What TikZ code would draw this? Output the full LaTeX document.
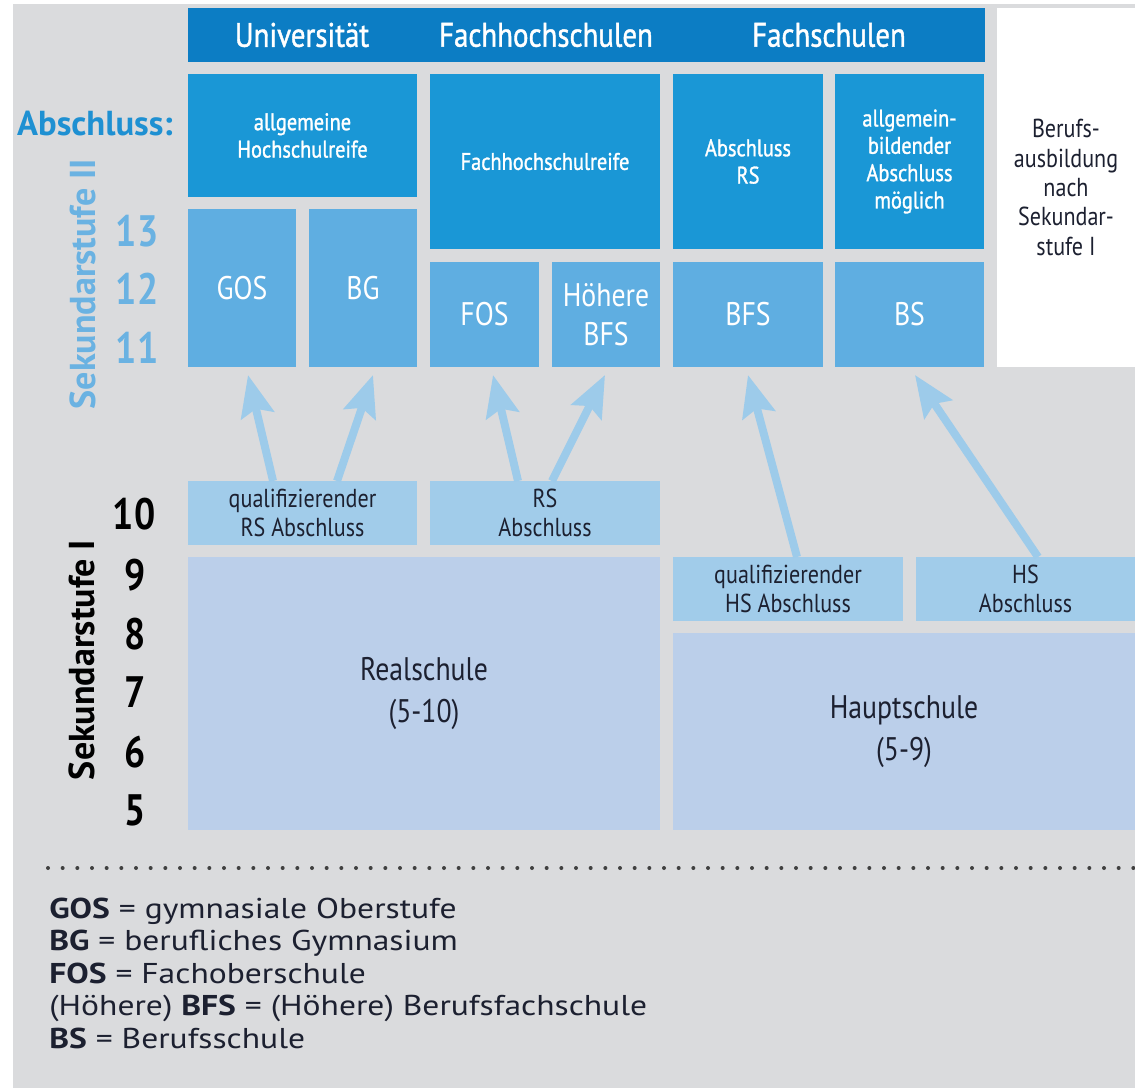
\documentclass[tikz,border=0pt]{standalone}
\usepackage{fontspec}
\setmainfont{PT Sans}
\newfontfamily\cnd{PT Sans}[FakeStretch=0.85]
\newfontfamily\cndsb{PT Sans}[FakeStretch=0.85,FakeBold=1.2]
\newfontfamily\cndb{PT Sans}[FakeStretch=1.0]
\newfontfamily\legfont{PT Sans}[FakeStretch=1.17]
\usetikzlibrary{arrows.meta,calc}
\definecolor{bggray}{HTML}{DADBDD}
\definecolor{hdrblue}{HTML}{0C7DC4}
\definecolor{absblue}{HTML}{1A97D6}
\definecolor{schblue}{HTML}{5FAEE1}
\definecolor{lightbox}{HTML}{A1CCEA}
\definecolor{bigbox}{HTML}{BBCFEA}
\definecolor{arrowc}{HTML}{9DCBEA}
\definecolor{abslabel}{HTML}{1E90D2}
\definecolor{sekii}{HTML}{6AB2E2}
\definecolor{darktxt}{HTML}{1C2030}
\newcommand\fsz[2]{\fontsize{#1}{#2}\selectfont}
\newcommand\mybox[7]{\node[#6,minimum width={(#4-#2)*0.75pt},minimum height={(#5-#3)*0.75pt}] (#1) at ({(#2+#4)/2},{(#3+#5)/2}) {#7};}
\begin{document}
\begin{tikzpicture}[x=0.75pt,y=-0.75pt,
  boxbase/.style={rectangle,draw=none,inner sep=0pt,outer sep=0pt,align=center},
  hdrbox/.style={boxbase,fill=hdrblue},
  hdrtxt/.style={text=white,font=\cndsb\fsz{25.5pt}{30pt}},
  absbox/.style={boxbase,fill=absblue,text=white,font=\cndsb\fsz{18pt}{20.5pt}},
  schbox/.style={boxbase,fill=schblue,text=white,font=\cnd\fsz{24.5pt}{29pt}},
  whitebox/.style={boxbase,fill=white,text=darktxt,font=\cnd\fsz{19.5pt}{22pt}},
  lbox/.style={boxbase,fill=lightbox,text=darktxt,font=\cnd\fsz{19.5pt}{21.5pt}},
  bbox/.style={boxbase,fill=bigbox,text=darktxt,font=\cnd\fsz{24.5pt}{32pt}},
  abslbl/.style={inner sep=0pt,text=abslabel,font=\cndb\bfseries\fsz{26pt}{30pt}},
  sekiilbl/.style={inner sep=0pt,text=sekii,font=\cndb\bfseries\fsz{27pt}{32pt}},
  numii/.style={inner sep=0pt,text=sekii,font=\cnd\bfseries\fsz{33pt}{36pt}},
  sekilbl/.style={inner sep=0pt,text=black,font=\cndb\bfseries\fsz{27pt}{32pt}},
  numi/.style={inner sep=0pt,text=black,font=\cnd\bfseries\fsz{33pt}{36pt}},
  legend/.style={inner sep=0pt,text=darktxt,font=\legfont\fsz{21.5pt}{25pt}},
  arr/.style={draw=arrowc,line width=6pt,-{Stealth[length=31pt,width=25pt,inset=5pt]}},
  dotline/.style={draw=black!75,line width=3pt,line cap=round,dash pattern=on 0pt off 11pt}
]
\useasboundingbox (0,0) rectangle (1135,1088);
\fill[white] (0,0) rectangle (1135,1088);
\fill[bggray] (13,4) rectangle (1135,1088);

% header
\mybox{hdr}{188}{8}{985}{62}{hdrbox}{}
\node[hdrtxt] (huni) at (302,35) {Universität};
\node[hdrtxt] (hfh) at (546,35) {Fachhochschulen};
\node[hdrtxt] (hfs) at (829,35) {Fachschulen};

% Abschluss row
\mybox{ahr}{188}{74}{417}{197}{absbox}{allgemeine\\Hochschulreife}
\mybox{fhr}{430}{74}{660}{249}{absbox}{Fachhochschulreife}
\mybox{ars}{673}{74}{823}{249}{absbox}{Abschluss\\RS}
\mybox{aam}{835}{74}{984}{249}{absbox}{allgemein-\\bildender\\Abschluss\\möglich}
\mybox{bas}{997}{8}{1135}{367}{whitebox}{Berufs-\\ausbildung\\nach\\Sekundar-\\stufe I}

% school row
\mybox{gos}{188}{209}{296}{367}{schbox}{GOS}
\mybox{bg}{309}{209}{417}{367}{schbox}{BG}
\mybox{fos}{430}{262}{539}{367}{schbox}{FOS}
\mybox{hbfs}{552}{262}{660}{367}{schbox}{Höhere\\BFS}
\mybox{bfs}{673}{262}{823}{367}{schbox}{BFS}
\mybox{bs}{835}{262}{984}{367}{schbox}{BS}

% lower part
\mybox{qrs}{188}{481}{417}{545}{lbox}{qualifizierender\\RS Abschluss}
\mybox{rsa}{430}{481}{660}{545}{lbox}{RS\\Abschluss}
\mybox{rs}{188}{557}{660}{830}{bbox}{Realschule\\(5-10)}
\mybox{qhs}{673}{557}{903}{621}{lbox}{qualifizierender\\HS Abschluss}
\mybox{hsa}{916}{557}{1135}{621}{lbox}{HS\\Abschluss}
\mybox{hs}{673}{633}{1135}{830}{bbox}{Hauptschule\\(5-9)}

% arrows
\draw[arr] ([xshift=-22.1pt]qrs.north) -- ([xshift=4.5pt,yshift=-6pt]gos.south);
\draw[arr] ([xshift=25.9pt]qrs.north) -- ([xshift=7.5pt,yshift=-6pt]bg.south);
\draw[arr] ([xshift=-20.25pt]rsa.north) -- ([xshift=6.4pt,yshift=-6pt]fos.south);
\draw[arr] ([xshift=5.25pt]rsa.north) -- ([xshift=-0.75pt,yshift=-6pt]hbfs.south);
\draw[arr] ([xshift=6.75pt]qhs.north) -- ([yshift=-6pt]bfs.south);
\draw[arr] ([xshift=9.4pt]hsa.north) -- ([xshift=4.1pt,yshift=-6pt]bs.south);

% left labels
\node[abslbl] (abs) at (95,124) {Abschluss:};
\node[sekiilbl,rotate=90] (sek2) at (83,284) {Sekundarstufe II};
\node[numii] (n13) at (137,231) {13};
\node[numii] (n12) at (137,289) {12};
\node[numii] (n11) at (137,348) {11};
\node[sekilbl,rotate=90] (sek1) at (82,660) {Sekundarstufe I};
\node[numi] (n10) at (134,514) {10};
\node[numi] (n9) at (135,575) {9};
\node[numi] (n8) at (135,634) {8};
\node[numi] (n7) at (135,692) {7};
\node[numi] (n6) at (135,752) {6};
\node[numi] (n5) at (135,810) {5};

% dotted separator
\coordinate (dl1) at (48,868);
\coordinate (dl2) at (1140,868);
\draw[dotline] (dl1) -- (dl2);

% legend
\node[legend,anchor=base west] (lg1) at (49,918) {\textbf{GOS} = gymnasiale Oberstufe};
\node[legend,anchor=base west] (lg2) at (49,950.5) {\textbf{BG} = berufliches Gymnasium};
\node[legend,anchor=base west] (lg3) at (49,983) {\textbf{FOS} = Fachoberschule};
\node[legend,anchor=base west] (lg4) at (49,1015.5) {(Höhere) \textbf{BFS} = (Höhere) Berufsfachschule};
\node[legend,anchor=base west] (lg5) at (49,1048) {\textbf{BS} = Berufsschule};
\end{tikzpicture}
\end{document}
